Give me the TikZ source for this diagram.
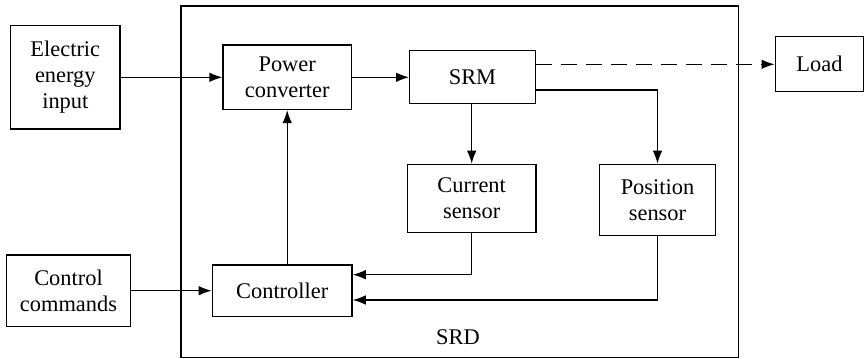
\documentclass[tikz,border=0pt]{standalone}
\usepackage{fontspec}
\setmainfont{Liberation Serif}
\usetikzlibrary{arrows.meta}
\tikzset{
  blk/.style={draw,align=center,inner sep=0pt,font=\fontsize{11.2}{12.9}\selectfont},
  flow/.style={-{Latex[length=6.5pt,width=4.8pt]}}
}
\begin{document}
\begin{tikzpicture}[x=0.5pt,y=-0.5pt,line width=0.65pt]
\useasboundingbox (0,0) rectangle (864,359);
% SRD frame
\draw (181,6) rectangle (738.5,357.5);
\node[font=\fontsize{11.2}{12.9}\selectfont] (srd) at (458,337) {SRD};
% outside blocks
\node[blk,minimum width=54.7pt,minimum height=51.7pt] (elec) at (65.3,77.3) {Electric\\energy\\input};
\node[blk,minimum width=61.8pt,minimum height=35.7pt] (cmd) at (68.5,290.7) {Control\\commands};
\node[blk,minimum width=44.3pt,minimum height=27.5pt] (load) at (819.5,64.3) {Load};
% inside blocks
\node[blk,minimum width=64.2pt,minimum height=32.2pt] (conv) at (287.2,77.3) {Power\\converter};
\node[blk,minimum width=62.8pt,minimum height=26.5pt] (srm) at (472.5,77.3) {SRM};
\node[blk,minimum width=64.4pt,minimum height=34pt] (cur) at (471.7,198.3) {Current\\sensor};
\node[blk,minimum width=57.8pt,minimum height=35.7pt] (pos) at (657.5,200) {Position\\sensor};
\node[blk,minimum width=69.9pt,minimum height=25.7pt] (ctrl) at (282.2,290.7) {Controller};
% connectors
\draw[flow] (elec.east) -- (conv.west);
\draw[flow] (conv.east) -- (srm.west);
\draw[flow,dash pattern=on 8pt off 4.5pt] (srm.east |- 0,64.3) -- (load.west);
\draw[flow] (srm.south -| cur.north) -- (cur.north);
\draw[flow] (srm.east |- 0,90) -| (pos.north);
\draw[flow] (cur.south) |- (ctrl.east |- 0,274.7);
\draw[flow] (pos.south) |- (ctrl.east |- 0,300);
\draw[flow] (cmd.east) -- (ctrl.west);
\draw[flow] (ctrl.north -| conv.south) -- (conv.south);
\end{tikzpicture}
\end{document}
